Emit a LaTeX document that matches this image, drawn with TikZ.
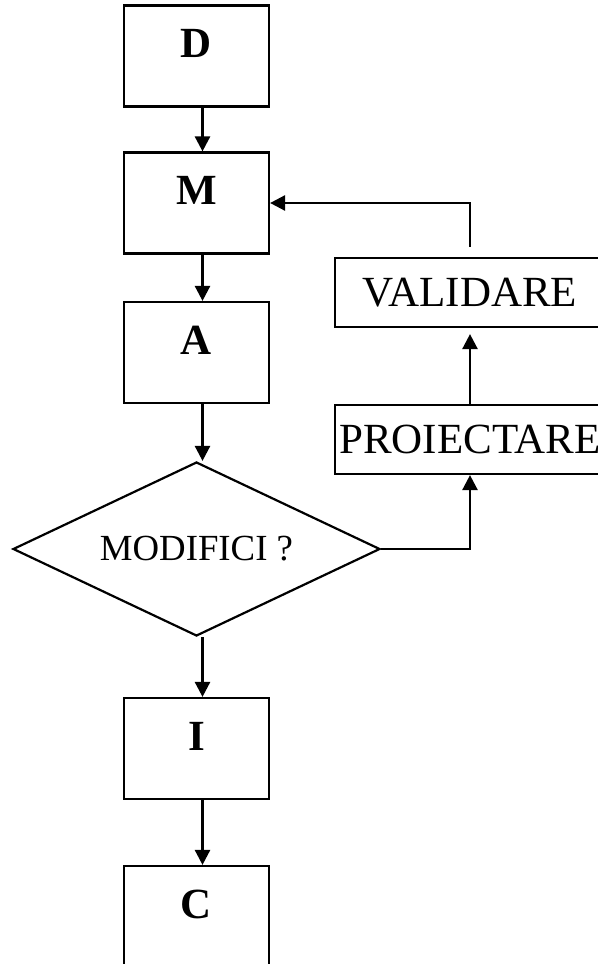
\documentclass[tikz,border=0pt]{standalone}
\usepackage{fontspec}
\setmainfont{Liberation Serif}
\usetikzlibrary{arrows.meta,shapes.geometric}
\tikzstyle{block} = [draw, rectangle, line width=1.1pt, inner sep=0pt, minimum width=72.5pt, text height=26pt, text depth=24.5pt, font=\bfseries\fontsize{21.5}{24}\selectfont]
\tikzstyle{sidebox} = [draw, rectangle, line width=1.1pt, inner sep=0pt, minimum width=135pt, minimum height=34.5pt, font=\fontsize{21.5}{24}\selectfont]
\tikzstyle{decision} = [draw, diamond, aspect=2.1, line width=1.1pt, inner sep=0pt, minimum width=183.5pt, minimum height=87pt, font=\fontsize{18.4}{20}\selectfont]

\begin{document}
\begin{tikzpicture}[x=0.5pt, y=-0.5pt, >={Triangle[length=7.5pt,width=7.5pt]}, line width=1.3pt]
        \useasboundingbox (0,0) rectangle (598,964);
        \clip (0,0) rectangle (598,964);
        \fill[white] (0,0) rectangle (598,964);
        \node[block] (d) at (196.5,56) {D};
        \node[block] (m) [below of=d, node distance=73.5pt] {M};
        \node[block] (a) [below of=m, node distance=74.75pt] {A};
        \node[decision] (modif) [below of=a, node distance=98.25pt] {MODIFICI ?};
        \node[block] (i) [below of=modif, node distance=99.75pt] {I};
        \node[block] (c) [below of=i, node distance=84pt] {C};
        \node[sidebox] (proiect) at (470,439.5) {PROIECTARE};
        \node[sidebox] (valid) [above of=proiect, node distance=73.5pt] {VALIDARE};
        \draw[->] ([xshift=3pt]d.south) -- ([xshift=3pt]m.north);
        \draw[->] ([xshift=3pt]m.south) -- ([xshift=3pt]a.north);
        \draw[->] ([xshift=3pt]a.south) -- ([xshift=3pt]modif.north);
        \draw[->] ([xshift=3pt]modif.south) -- ([xshift=3pt]i.north);
        \draw[->] ([xshift=3pt]i.south) -- ([xshift=3pt]c.north);
        \draw[->] (modif.east) -| (proiect.south);
        \draw[->, shorten >=3pt] (proiect.north) -- (valid.south);
        \draw[->, shorten <=5pt] (valid.north) |- (m.east);
    \end{tikzpicture}
\end{document}
